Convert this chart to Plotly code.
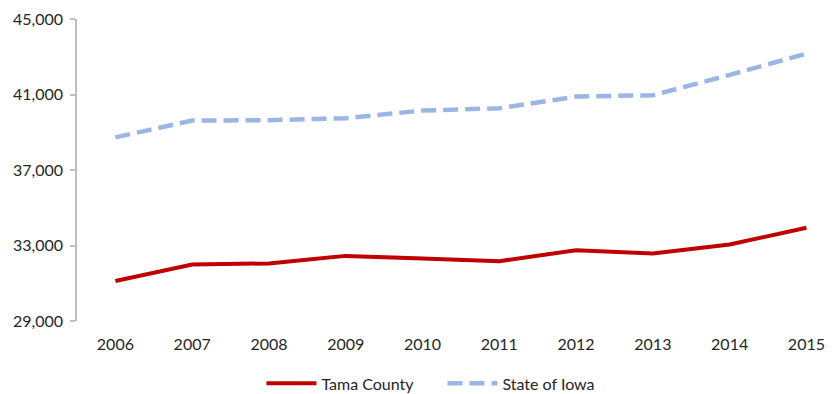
import plotly.graph_objects as go

# Median household income by year
years = ["2006", "2007", "2008", "2009", "2010", "2011", "2012", "2013", "2014", "2015"]
tama_county = [31120, 31990, 32050, 32450, 32310, 32170, 32750, 32580, 33050, 33940]
state_of_iowa = [38730, 39620, 39640, 39740, 40150, 40270, 40890, 40960, 42040, 43160]
y_ticks = [29000, 33000, 37000, 41000, 45000]

font_family = "Lato, 'Open Sans', sans-serif"
text_color = "#262626"

fig = go.Figure()
fig.add_trace(go.Scatter(
    x=years, y=tama_county, name="Tama County", mode="lines",
    line=dict(color="#C00000", width=4),
))
fig.add_trace(go.Scatter(
    x=years, y=state_of_iowa, name="State of Iowa", mode="lines",
    line=dict(color="#9BB6E4", width=4.5, dash="15px,7px"),
))

fig.update_layout(
    width=833, height=394,
    margin=dict(l=77, r=0, t=19, b=73, autoexpand=False),
    plot_bgcolor="white", paper_bgcolor="white",
    font=dict(family=font_family, size=16, color=text_color),
    showlegend=True,
    legend=dict(
        orientation="h", x=0.244, xanchor="left", y=-0.263, yanchor="bottom",
        bgcolor="rgba(0,0,0,0)",
        font=dict(family=font_family, size=16, color=text_color),
        itemwidth=50,
        entrywidth=116, entrywidthmode="pixels", tracegroupgap=0,
    ),
    xaxis=dict(
        type="category", range=[-0.5, 9.346],
        showgrid=False, showline=False, zeroline=False,
        ticks="", ticklabelstandoff=12,
        tickfont=dict(size=16, color=text_color),
    ),
    yaxis=dict(
        range=[29000, 45000], tickvals=y_ticks,
        tickformat=",d", showgrid=False, zeroline=False,
        showline=True, linecolor="#BFBFBF", linewidth=1.5,
        ticks="outside", ticklen=5, tickcolor="#BFBFBF", tickwidth=1.5,
        ticklabelstandoff=4,
        tickfont=dict(size=16, color=text_color),
    ),
)

fig.write_html("out.html")
